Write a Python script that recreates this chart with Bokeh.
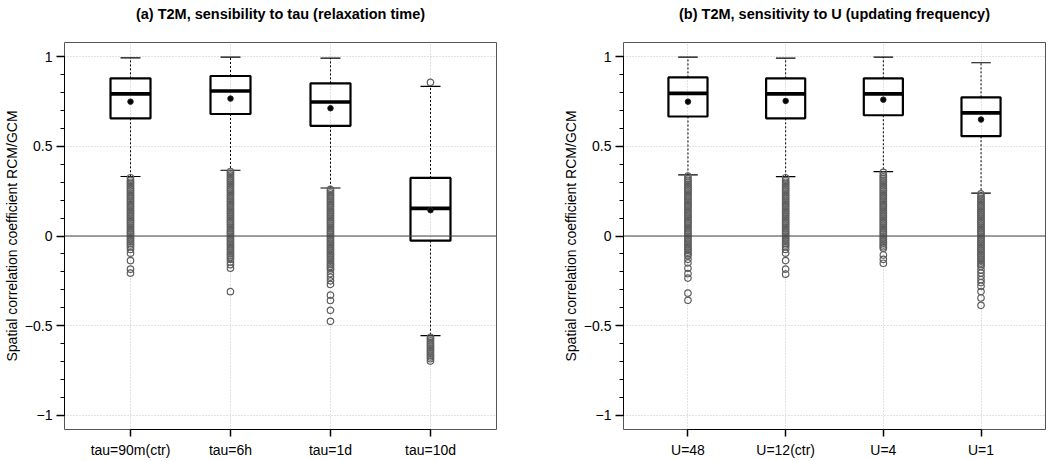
from bokeh.plotting import figure
from bokeh.layouts import row
from bokeh.models import Range1d, FixedTicker, Span, LinearAxis
from bokeh.embed import file_html
from bokeh.resources import INLINE

# ---------------- data ----------------
tau_labels = ["tau=90m(ctr)", "tau=6h", "tau=1d", "tau=10d"]
tau_q1 = [0.657, 0.681, 0.615, -0.026]
tau_median = [0.793, 0.809, 0.748, 0.154]
tau_q3 = [0.880, 0.893, 0.852, 0.324]
tau_mean = [0.750, 0.767, 0.713, 0.144]
tau_lower = [0.332, 0.367, 0.268, -0.556]
tau_upper = [0.994, 0.998, 0.993, 0.835]
tau_outliers = [
    [0.325, 0.31, 0.30, 0.29, 0.28, 0.27, 0.26, 0.25, 0.24, 0.23, 0.22, 0.21,
     0.20, 0.19, 0.18, 0.17, 0.16, 0.15, 0.14, 0.13, 0.12, 0.11, 0.10, 0.09,
     0.08, 0.07, 0.06, 0.05, 0.04, 0.03, 0.02, 0.01, 0.00, -0.01, -0.02,
     -0.03, -0.04, -0.05, -0.06, -0.075, -0.096, -0.137, -0.185, -0.207],
    [0.36, 0.35, 0.34, 0.33, 0.32, 0.31, 0.30, 0.29, 0.28, 0.27, 0.26, 0.25,
     0.24, 0.23, 0.22, 0.21, 0.20, 0.19, 0.18, 0.17, 0.16, 0.15, 0.14, 0.13,
     0.12, 0.11, 0.10, 0.09, 0.08, 0.07, 0.06, 0.05, 0.04, 0.03, 0.02, 0.01,
     0.00, -0.01, -0.02, -0.03, -0.04, -0.05, -0.06, -0.07, -0.08, -0.09,
     -0.10, -0.11, -0.12, -0.13, -0.145, -0.16, -0.18, -0.311],
    [0.26, 0.25, 0.24, 0.23, 0.22, 0.21, 0.20, 0.19, 0.18, 0.17, 0.16, 0.15,
     0.14, 0.13, 0.12, 0.11, 0.10, 0.09, 0.08, 0.07, 0.06, 0.05, 0.04, 0.03,
     0.02, 0.01, 0.00, -0.01, -0.02, -0.03, -0.04, -0.05, -0.06, -0.07, -0.08,
     -0.09, -0.10, -0.11, -0.12, -0.13, -0.14, -0.15, -0.16, -0.17, -0.18,
     -0.19, -0.21, -0.23, -0.25, -0.27, -0.33, -0.36, -0.415, -0.476],
    [0.857, -0.565, -0.575, -0.585, -0.595, -0.605, -0.615, -0.625, -0.635,
     -0.645, -0.655, -0.665, -0.675, -0.685, -0.698],
]

u_labels = ["U=48", "U=12(ctr)", "U=4", "U=1"]
u_q1 = [0.667, 0.657, 0.674, 0.557]
u_median = [0.796, 0.793, 0.793, 0.687]
u_q3 = [0.885, 0.880, 0.880, 0.774]
u_mean = [0.750, 0.754, 0.761, 0.650]
u_lower = [0.341, 0.331, 0.359, 0.239]
u_upper = [0.998, 0.993, 0.998, 0.967]
u_outliers = [
    [0.335, 0.32, 0.31, 0.30, 0.29, 0.28, 0.27, 0.26, 0.25, 0.24, 0.23, 0.22,
     0.21, 0.20, 0.19, 0.18, 0.17, 0.16, 0.15, 0.14, 0.13, 0.12, 0.11, 0.10,
     0.09, 0.08, 0.07, 0.06, 0.05, 0.04, 0.03, 0.02, 0.01, 0.00, -0.01,
     -0.02, -0.03, -0.04, -0.05, -0.06, -0.07, -0.08, -0.09, -0.10, -0.11,
     -0.13, -0.15, -0.18, -0.21, -0.235, -0.319, -0.359],
    [0.325, 0.31, 0.30, 0.29, 0.28, 0.27, 0.26, 0.25, 0.24, 0.23, 0.22, 0.21,
     0.20, 0.19, 0.18, 0.17, 0.16, 0.15, 0.14, 0.13, 0.12, 0.11, 0.10, 0.09,
     0.08, 0.07, 0.06, 0.05, 0.04, 0.03, 0.02, 0.01, 0.00, -0.01, -0.02,
     -0.03, -0.04, -0.05, -0.06, -0.075, -0.096, -0.137, -0.185, -0.213],
    [0.355, 0.34, 0.33, 0.32, 0.31, 0.30, 0.29, 0.28, 0.27, 0.26, 0.25, 0.24,
     0.23, 0.22, 0.21, 0.20, 0.19, 0.18, 0.17, 0.16, 0.15, 0.14, 0.13, 0.12,
     0.11, 0.10, 0.09, 0.08, 0.07, 0.06, 0.05, 0.04, 0.03, 0.02, 0.01, 0.00,
     -0.01, -0.02, -0.03, -0.04, -0.05, -0.06, -0.068, -0.106, -0.13, -0.152],
    [0.235, 0.22, 0.21, 0.20, 0.19, 0.18, 0.17, 0.16, 0.15, 0.14, 0.13, 0.12,
     0.11, 0.10, 0.09, 0.08, 0.07, 0.06, 0.05, 0.04, 0.03, 0.02, 0.01, 0.00,
     -0.01, -0.02, -0.03, -0.04, -0.05, -0.06, -0.07, -0.08, -0.09, -0.10,
     -0.11, -0.12, -0.13, -0.14, -0.15, -0.16, -0.17, -0.19, -0.207, -0.225,
     -0.244, -0.26, -0.28, -0.31, -0.346, -0.387],
]

y_ticks = [-1, -0.5, 0, 0.5, 1]
y_tick_labels = {-1: "\u22121", -0.5: "\u22120.5", 0: "0", 0.5: "0.5", 1: "1"}

FONT = "Liberation Sans"
BOX_W = 0.4
CAP_W = 0.2


def make_panel(title, labels, q1, med, q3, mean, lower, upper, outliers,
               border_left, frame_w, border_right):
    n = len(labels)
    xs = list(range(1, n + 1))
    p = figure(output_backend="svg", toolbar_location=None,
               frame_width=frame_w, frame_height=387,
               min_border_left=border_left, min_border_right=border_right,
               min_border_top=42, min_border_bottom=30,
               x_range=Range1d(0.34, n + 0.66), y_range=Range1d(-1.08, 1.08))
    p.background_fill_color = "white"
    p.border_fill_color = "white"
    p.outline_line_color = "#555555"
    p.outline_line_width = 1

    # title drawn as the label of a bare axis above the frame
    tax = LinearAxis(axis_label=title, ticker=FixedTicker(ticks=[]))
    tax.axis_line_color = None
    tax.major_tick_line_color = None
    tax.minor_tick_line_color = None
    tax.major_label_text_font_size = "0px"
    tax.major_label_standoff = 0
    tax.major_tick_out = 0
    tax.major_tick_in = 0
    tax.axis_label_standoff = 21
    tax.axis_label_text_font = FONT
    tax.axis_label_text_font_size = "14.5px"
    tax.axis_label_text_font_style = "bold"
    tax.axis_label_text_color = "black"
    p.add_layout(tax, "above")

    # axes
    p.yaxis.ticker = FixedTicker(ticks=y_ticks,
                                 minor_ticks=[i / 10 for i in range(-10, 11)])
    p.yaxis.major_label_overrides = y_tick_labels
    p.yaxis.bounds = (-1, 1)
    p.yaxis.axis_label = "Spatial correlation coefficient RCM/GCM"
    p.yaxis.axis_label_text_font = FONT
    p.yaxis.axis_label_text_font_size = "14px"
    p.yaxis.axis_label_text_font_style = "normal"
    p.yaxis.axis_label_text_color = "black"
    p.yaxis.axis_label_standoff = 2
    p.yaxis.major_label_standoff = 4
    p.yaxis.major_tick_out = 8
    p.yaxis.major_tick_in = 0
    p.yaxis.minor_tick_out = 4
    p.yaxis.minor_tick_in = 0
    p.yaxis.major_tick_line_width = 1.5
    p.yaxis.axis_line_color = "black"

    bx = p.below[0]
    bx.ticker = FixedTicker(ticks=xs)
    bx.major_label_overrides = {x: lab for x, lab in zip(xs, labels)}
    bx.bounds = (1, n)
    bx.major_tick_out = 7
    bx.major_tick_in = 0
    bx.major_tick_line_width = 1.5
    bx.minor_tick_line_color = None
    bx.major_label_standoff = 5
    bx.axis_line_color = "black"

    for ax in (bx, p.yaxis[0]):
        ax.major_label_text_font = FONT
        ax.major_label_text_font_size = "14px"
        ax.major_label_text_color = "black"

    # grids
    for g in (p.xgrid, p.ygrid):
        g.grid_line_color = "#c4c4c4"
        g.grid_line_dash = "1 2"
        g.grid_line_width = 1

    # zero line
    p.add_layout(Span(location=0, dimension="width", line_color="#444444",
                      line_width=1))

    # whiskers
    p.segment(x0=xs, y0=q3, x1=xs, y1=upper, line_color="black",
              line_width=1, line_dash="2 2")
    p.segment(x0=xs, y0=q1, x1=xs, y1=lower, line_color="black",
              line_width=1, line_dash="2 2")
    # caps
    p.segment(x0=[x - CAP_W / 2 for x in xs], y0=upper,
              x1=[x + CAP_W / 2 for x in xs], y1=upper,
              line_color="black", line_width=1.2)
    p.segment(x0=[x - CAP_W / 2 for x in xs], y0=lower,
              x1=[x + CAP_W / 2 for x in xs], y1=lower,
              line_color="black", line_width=1.2)

    # outliers
    ox, oy = [], []
    for x, vals in zip(xs, outliers):
        ox += [x] * len(vals)
        oy += vals
    p.scatter(ox, oy, marker="circle", size=6.5, fill_color=None,
              line_color="#5e5e5e", line_width=1.2)

    # boxes
    p.vbar(x=xs, width=BOX_W, top=q3, bottom=q1, fill_color=None,
           line_color="black", line_width=2.2)
    p.segment(x0=[x - BOX_W / 2 for x in xs], y0=med,
              x1=[x + BOX_W / 2 for x in xs], y1=med,
              line_color="black", line_width=3.6)
    # means
    p.scatter(xs, mean, marker="circle", size=5.5, fill_color="black",
              line_color="#222222", line_width=1)
    return p


p1 = make_panel("(a) T2M, sensibility to tau (relaxation time)", tau_labels,
                tau_q1, tau_median, tau_q3, tau_mean, tau_lower, tau_upper,
                tau_outliers, 57, 432, 63)
p2 = make_panel("(b) T2M, sensitivity to U (updating frequency)", u_labels,
                u_q1, u_median, u_q3, u_mean, u_lower, u_upper,
                u_outliers, 59, 422, 2)

layout = row(p1, p2)
open("out.html", "w").write(file_html(layout, INLINE))
